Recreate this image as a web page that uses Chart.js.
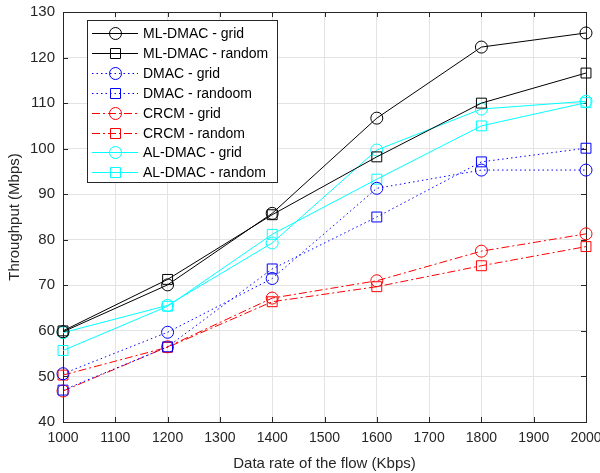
<!DOCTYPE html>
<html>
<head>
<meta charset="utf-8">
<script src="https://cdn.jsdelivr.net/npm/chart.js@4.4.1/dist/chart.umd.min.js"></script>
<style>
  html, body { margin: 0; padding: 0; background: #fff; }
  #wrap { width: 600px; height: 473px; }
</style>
</head>
<body>
<div id="wrap"><canvas id="grafico" width="600" height="473"></canvas></div>
<script>
// data
const rates = [1000, 1200, 1400, 1600, 1800, 2000];
const mlGrid = [59.8, 70.1, 85.8, 106.7, 122.3, 125.4];
const mlRandom = [60.0, 71.3, 85.5, 98.2, 110.0, 116.6];
const dmacGrid = [50.6, 59.7, 71.5, 91.3, 95.3, 95.3];
const dmacRandom = [47.0, 56.5, 73.6, 85.0, 97.1, 100.1];
const crcmGrid = [46.8, 56.5, 67.2, 71.0, 77.5, 81.3];
const crcmRandom = [50.3, 56.4, 66.4, 69.7, 74.3, 78.5];
const alGrid = [59.6, 65.6, 79.3, 99.7, 108.7, 110.4];
const alRandom = [55.7, 65.4, 81.2, 93.3, 105.0, 110.1];
const xTicks = [1000, 1100, 1200, 1300, 1400, 1500, 1600, 1700, 1800, 1900, 2000];
const yTicks = [40, 50, 60, 70, 80, 90, 100, 110, 120, 130];

const FONT = 'Liberation Sans, Arial, sans-serif';

function serie(label, values, color, dash, marker) {
    return {
        label: label,
        data: values.map((v, i) => ({ x: rates[i], y: v })),
        borderColor: color,
        backgroundColor: 'transparent',
        borderWidth: 1,
        borderDash: dash,
        pointStyle: marker,
        pointRadius: marker === 'circle' ? 6 : 7,
        pointBorderColor: color,
        pointBackgroundColor: 'transparent',
        pointBorderWidth: 1,
        fill: false,
        clip: false,
        tension: 0
    };
}

const datasets = [
    serie('ML-DMAC - grid', mlGrid, '#000000', [], 'circle'),
    serie('ML-DMAC - random', mlRandom, '#000000', [], 'rect'),
    serie('DMAC - grid', dmacGrid, '#0000ff', [1.5, 3], 'circle'),
    serie('DMAC - randoom', dmacRandom, '#0000ff', [1.5, 3], 'rect'),
    serie('CRCM - grid', crcmGrid, '#ff0000', [8, 3, 2, 3], 'circle'),
    serie('CRCM - random', crcmRandom, '#ff0000', [8, 3, 2, 3], 'rect'),
    serie('AL-DMAC - grid', alGrid, '#00ffff', [], 'circle'),
    serie('AL-DMAC - random', alRandom, '#00ffff', [], 'rect')
];

function marca(ctx, style, x, y, color) {
    ctx.save();
    ctx.strokeStyle = color;
    ctx.lineWidth = 1;
    ctx.setLineDash([]);
    ctx.beginPath();
    if (style === 'circle') {
        ctx.arc(x, y, 6, 0, Math.PI * 2);
    } else {
        ctx.rect(x - 5, y - 5, 10, 10);
    }
    ctx.stroke();
    ctx.restore();
}

// box and inward ticks under the lines, legend on top
const marcoPlugin = {
    id: 'marco',
    beforeDatasetsDraw(chart) {
        const ctx = chart.ctx;
        const a = chart.chartArea;
        const xs = chart.scales.x;
        const ys = chart.scales.y;
        ctx.save();
        ctx.strokeStyle = '#262626';
        ctx.lineWidth = 1;
        ctx.strokeRect(Math.round(a.left) + 0.5, Math.round(a.top) + 0.5, Math.round(a.right - a.left), Math.round(a.bottom - a.top));
        ctx.beginPath();
        xTicks.forEach(v => {
            const px = Math.round(xs.getPixelForValue(v)) + 0.5;
            ctx.moveTo(px, a.bottom); ctx.lineTo(px, a.bottom - 5);
            ctx.moveTo(px, a.top); ctx.lineTo(px, a.top + 5);
        });
        yTicks.forEach(v => {
            const py = Math.round(ys.getPixelForValue(v)) + 0.5;
            ctx.moveTo(a.left, py); ctx.lineTo(a.left + 5, py);
            ctx.moveTo(a.right, py); ctx.lineTo(a.right - 5, py);
        });
        ctx.stroke();
        ctx.restore();
    },
    afterDraw(chart) {
        const ctx = chart.ctx;
        ctx.save();
        const lx = 87, ly = 20, lw = 190, lh = 162;
        ctx.fillStyle = '#ffffff';
        ctx.fillRect(lx, ly, lw, lh);
        ctx.strokeStyle = '#262626';
        ctx.lineWidth = 1;
        ctx.strokeRect(lx + 0.5, ly + 0.5, lw, lh);
        ctx.font = '14px ' + FONT;
        ctx.textBaseline = 'middle';
        chart.data.datasets.forEach((ds, i) => {
            const y = Math.round(ly + 13.3 + i * 19.86) + 0.5;
            ctx.save();
            ctx.strokeStyle = ds.borderColor;
            ctx.lineWidth = 1;
            ctx.setLineDash(ds.borderDash);
            ctx.beginPath();
            ctx.moveTo(92, y); ctx.lineTo(138, y);
            ctx.stroke();
            ctx.restore();
            marca(ctx, ds.pointStyle, 115.5, y, ds.borderColor);
            ctx.fillStyle = '#000000';
            ctx.fillText(ds.label, 143, y + 0.5);
        });
        ctx.restore();
    }
};

new Chart(document.getElementById('grafico').getContext('2d'), {
    type: 'line',
    data: { datasets: datasets },
    options: {
        responsive: false,
        animation: false,
        layout: { padding: { top: 12, right: 14, left: 6, bottom: 0 } },
        plugins: {
            legend: { display: false },
            tooltip: { enabled: false }
        },
        scales: {
            x: {
                type: 'linear',
                min: 1000,
                max: 2000,
                afterBuildTicks: axis => { axis.ticks = xTicks.map(v => ({ value: v })); },
                afterFit: axis => { axis.height = 51; axis.paddingLeft = 0; axis.paddingRight = 0; },
                grid: { color: '#e3e3e3', drawTicks: false },
                border: { display: false },
                ticks: { color: '#262626', font: { family: FONT, size: 14 }, padding: 8, maxRotation: 0, callback: v => String(v) },
                title: { display: true, text: 'Data rate of the flow (Kbps)', color: '#262626', font: { family: FONT, size: 15 }, padding: { top: 2, bottom: 0 } }
            },
            y: {
                min: 40,
                max: 130,
                afterBuildTicks: axis => { axis.ticks = yTicks.map(v => ({ value: v })); },
                afterFit: axis => { axis.width = 57; axis.paddingTop = 0; axis.paddingBottom = 0; },
                grid: { color: '#e3e3e3', drawTicks: false },
                border: { display: false },
                ticks: { color: '#262626', font: { family: FONT, size: 15 }, padding: 8, callback: v => String(v) },
                title: { display: true, text: 'Throughput (Mbps)', color: '#262626', font: { family: FONT, size: 15 }, padding: { top: 0, bottom: 2 } }
            }
        }
    },
    plugins: [marcoPlugin]
});
</script>
</body>
</html>
